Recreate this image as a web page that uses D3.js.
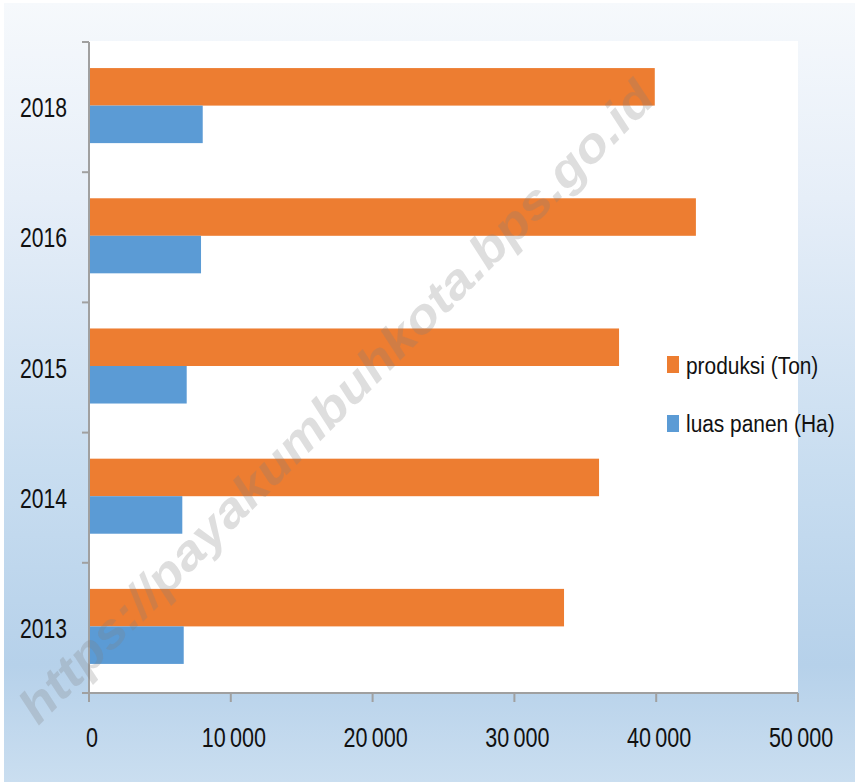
<!DOCTYPE html>
<html><head><meta charset="utf-8">
<script src="https://cdn.jsdelivr.net/npm/d3@7"></script>
<style>
html,body{margin:0;padding:0;background:#fff;}
svg{display:block;}
</style></head>
<body>
<svg id="chart" width="855" height="782"></svg>
<script>
const years = ["2013","2014","2015","2016","2018"];
const seriesNames = ["produksi (Ton)","luas panen (Ha)"];
const produksi = [33500, 35970, 37380, 42800, 39900];
const luasPanen = [6680, 6580, 6890, 7900, 8020];
const xTicks = [0, 10000, 20000, 30000, 40000, 50000];
const watermark = "https://payakumbuhkota.bps.go.id";

const colors = ["#ED7D31", "#5B9BD5"];
const W = 855, H = 782;
const m = {left: 89, right: 798, top: 42, bottom: 693};
const svg = d3.select("#chart");
const defs = svg.append("defs");
const grad = defs.append("linearGradient").attr("id","bg").attr("x1",0).attr("y1",0).attr("x2",0).attr("y2",1);
[[0,"#f6f9fc"],[0.25,"#e6eef8"],[0.6,"#c8ddf0"],[0.85,"#b6d1ea"],[1,"#cadef0"]].forEach(([o,c])=>
  grad.append("stop").attr("offset",o).attr("stop-color",c));
svg.append("rect").attr("x",4).attr("y",3).attr("width",W-4).attr("height",H-3).attr("fill","url(#bg)");
svg.append("rect").attr("x",m.left).attr("y",m.top-1).attr("width",m.right-m.left).attr("height",m.bottom-m.top+1).attr("fill","#fff");

const x = d3.scaleLinear().domain([0,50000]).range([m.left, m.right]);
const y = d3.scaleBand().domain(years).range([m.bottom, m.top]).padding(0);
const bw = y.bandwidth();
const barH = bw/(2+1.47);
const y1 = d3.scaleBand().domain(seriesNames).range([bw/2 - barH, bw/2 + barH]);

const data = years.map((yr,i)=>({year:yr, vals:[produksi[i], luasPanen[i]]}));
const g = svg.append("g");
data.forEach(d=>{
  seriesNames.forEach((s,j)=>{
    g.append("rect")
      .attr("x", x(0)+1)
      .attr("y", y(d.year) + y1(s) - 1.5)
      .attr("width", x(d.vals[j]) - x(0) - 1)
      .attr("height", y1.bandwidth())
      .attr("fill", colors[j]);
  });
});

const fontF = "'Liberation Sans',Arial,sans-serif";
// axes
const axisCol = "#a0a0a0";
svg.append("line").attr("x1",m.left).attr("x2",m.left).attr("y1",m.top).attr("y2",m.bottom).attr("stroke",axisCol).attr("stroke-width",2);
svg.append("line").attr("x1",m.left).attr("x2",m.right).attr("y1",m.bottom).attr("y2",m.bottom).attr("stroke",axisCol).attr("stroke-width",2);
// y ticks at band boundaries
const yBounds = years.map(yr=>y(yr)).concat([m.bottom]);
yBounds.forEach(v=>{
  svg.append("line").attr("x1",m.left-7).attr("x2",m.left).attr("y1",v).attr("y2",v).attr("stroke",axisCol).attr("stroke-width",2);
});
years.forEach(yr=>{
  svg.append("text").attr("x",0).attr("y",0)
    .attr("transform",`translate(67,${y(yr)+bw/2+10}) scale(0.755,1)`)
    .attr("text-anchor","end").attr("font-family",fontF).attr("font-size",28).attr("fill","#111").text(yr);
});
const fmt = v => v===0 ? "0" : d3.format(",")(v).replace(/,/g,"\u2009");
xTicks.forEach(v=>{
  svg.append("line").attr("x1",x(v)).attr("x2",x(v)).attr("y1",m.bottom).attr("y2",m.bottom+9).attr("stroke",axisCol).attr("stroke-width",2);
  svg.append("text").attr("transform",`translate(${x(v)+3},747) scale(0.77,1)`)
    .attr("text-anchor","middle").attr("font-family",fontF).attr("font-size",28).attr("fill","#111").text(fmt(v));
});

// legend
const leg = [[356,374],[415,432]];
seriesNames.forEach((s,j)=>{
  svg.append("rect").attr("x",667).attr("y",leg[j][0]).attr("width",12).attr("height",17).attr("fill",colors[j]);
  svg.append("text").attr("transform",`translate(686,${leg[j][1]}) scale(0.95,1.06)`)
    .attr("font-family",fontF).attr("font-size",22).attr("fill","#111").text(s);
});

// watermark
svg.append("text").attr("transform","translate(336,402) rotate(-45.3)")
  .attr("text-anchor","middle").attr("dominant-baseline","central")
  .attr("font-family","'Liberation Sans',Arial,sans-serif").attr("font-weight","bold").attr("font-style","italic")
  .attr("font-size",48).attr("fill","#808080").attr("fill-opacity",0.26)
  .attr("textLength",880).attr("lengthAdjust","spacingAndGlyphs")
  .text(watermark);
</script>
</body></html>
